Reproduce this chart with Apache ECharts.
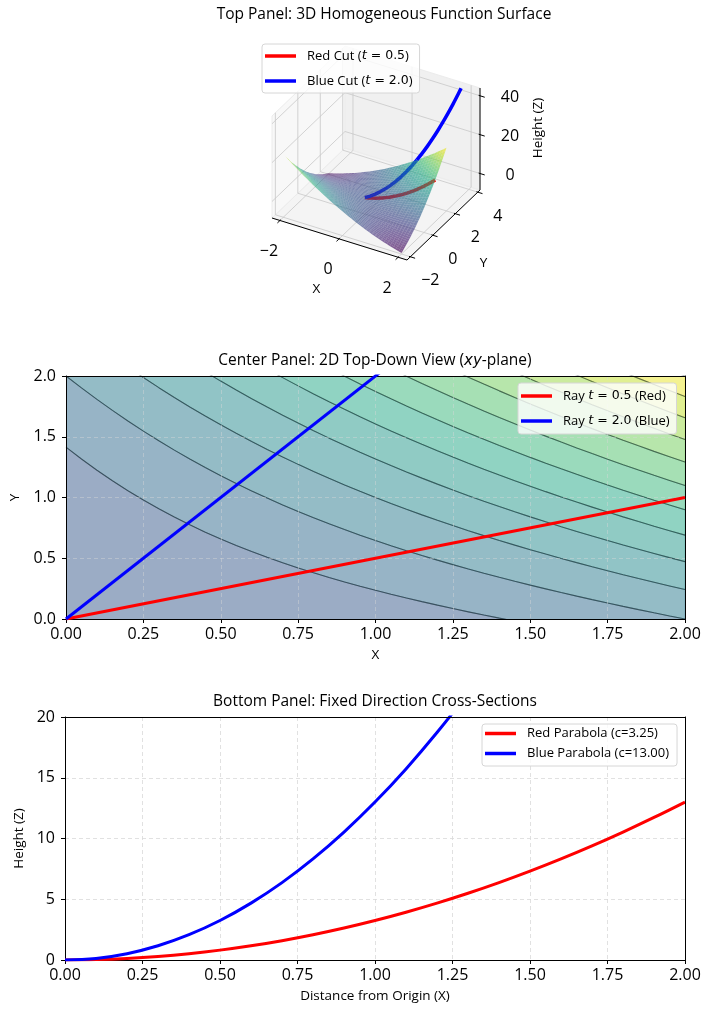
<!DOCTYPE html>
<html>
<head>
<meta charset="utf-8">
<script src="https://cdn.jsdelivr.net/npm/echarts@6/dist/echarts.min.js"></script>
<style>
html, body { margin: 0; padding: 0; background: #fff; }
#chart { width: 712px; height: 1016px; }
</style>
</head>
<body>
<div id="chart"></div>
<script>
// surface z = a*x^2 + b*x*y + c*y^2 (homogeneous of degree 2)
var surfCoef = [1, 4, 1];
var surfGridX = [-2,-1.9,-1.8,-1.7,-1.6,-1.5,-1.4,-1.3,-1.2,-1.1,-1,-0.9,-0.8,-0.7,-0.6,-0.5,-0.4,-0.3,-0.2,-0.1,0,0.1,0.2,0.3,0.4,0.5,0.6,0.7,0.8,0.9,1,1.1,1.2,1.3,1.4,1.5,1.6,1.7,1.8,1.9,2];
var surfGridY = [-2,-1.9,-1.8,-1.7,-1.6,-1.5,-1.4,-1.3,-1.2,-1.1,-1,-0.9,-0.8,-0.7,-0.6,-0.5,-0.4,-0.3,-0.2,-0.1,0,0.1,0.2,0.3,0.4,0.5,0.6,0.7,0.8,0.9,1,1.1,1.2,1.3,1.4,1.5,1.6,1.7,1.8,1.9,2];

// 3D axes
var lim3X = [-2.27, 2.3];
var lim3Y = [-2.3, 4.2];
var lim3Z = [-8.5, 44];
var ticks3X = [-2, 0, 2];
var ticks3Y = [-2, 0, 2, 4];
var ticks3Z = [0, 20, 40];

// cuts along y = t*x
var cutT = [0.5, 2.0];
var cutX = [0,0.1,0.2,0.3,0.4,0.5,0.6,0.7,0.8,0.9,1,1.1,1.2,1.3,1.4,1.5,1.6,1.7,1.8,1.9,2];
var redCutZ = [0,0.0325,0.13,0.2925,0.52,0.8125,1.17,1.5925,2.08,2.6325,3.25,3.9325,4.68,5.4925,6.37,7.3125,8.32,9.3925,10.53,11.7325,13];
var blueCutX = [0,0.1,0.2,0.3,0.4,0.5,0.6,0.7,0.8,0.9,1,1.1,1.2,1.3,1.4,1.5,1.6,1.7,1.8,1.85];
var blueCutZ = [0,0.13,0.52,1.17,2.08,3.25,4.68,6.37,8.32,10.53,13,15.73,18.72,21.97,25.48,29.25,33.28,37.57,42.12,44.49];

// center panel
var contourLevels = [-8,-6,-4,-2,0,2,4,6,8,10,12,14,16,18,20,22,24];
var planX = [0,0.05,0.1,0.15,0.2,0.25,0.3,0.35,0.4,0.45,0.5,0.55,0.6,0.65,0.7,0.75,0.8,0.85,0.9,0.95,1,1.05,1.1,1.15,1.2,1.25,1.3,1.35,1.4,1.45,1.5,1.55,1.6,1.65,1.7,1.75,1.8,1.85,1.9,1.95,2];
var rayX = [0, 2];
var rayRedY = [0, 1];
var rayBlueY = [0, 4];

// bottom panel
var parabolaC = [3.25, 13.00];
var distX = [0,0.1,0.2,0.3,0.4,0.5,0.6,0.7,0.8,0.9,1,1.1,1.2,1.3,1.4,1.5,1.6,1.7,1.8,1.9,2];
var redParabola = [0,0.0325,0.13,0.2925,0.52,0.8125,1.17,1.5925,2.08,2.6325,3.25,3.9325,4.68,5.4925,6.37,7.3125,8.32,9.3925,10.53,11.7325,13];
var blueParabola = [0,0.13,0.52,1.17,2.08,3.25,4.68,6.37,8.32,10.53,13,15.73,18.72,21.97,25.48];

var FONT = '"Open Sans", sans-serif';
var MATH = '"DejaVu Sans", sans-serif';
var RED = '#ff0000', BLUE = '#0000ff';

var viridisStops = ['#440154','#482475','#414487','#355f8d','#2a788e','#21918c','#22a884','#44bf70','#7ad151','#bddf26','#fde725'];
function hexRgb(h) { return [parseInt(h.substr(1,2),16), parseInt(h.substr(3,2),16), parseInt(h.substr(5,2),16)]; }
function viridis(t, a) {
    t = Math.max(0, Math.min(1, t));
    var p = t * 10, i = Math.min(9, Math.floor(p)), f = p - i;
    var c0 = hexRgb(viridisStops[i]), c1 = hexRgb(viridisStops[i + 1]);
    var c = [0,1,2].map(function (k) { return Math.round(c0[k] + (c1[k] - c0[k]) * f); });
    return 'rgba(' + c.join(',') + ',' + a + ')';
}

function surfZ(x, y) { return surfCoef[0]*x*x + surfCoef[1]*x*y + surfCoef[2]*y*y; }
// y on the level curve surfZ(x, y) = L
function levelY(x, L) {
    var a = surfCoef[0], b = surfCoef[1], c = surfCoef[2];
    return (-b*x + Math.sqrt(b*b*x*x - 4*c*(a*x*x - L))) / (2*c);
}

// 3D projection into the top panel (elev 30, azim -60 look)
var P0 = [32, 188], VX = [135, 42], VY = [73, -70], VZ = [0, -102];
function frac3(x, y, z) {
    return [(x - lim3X[0]) / (lim3X[1] - lim3X[0]), (y - lim3Y[0]) / (lim3Y[1] - lim3Y[0]), (z - lim3Z[0]) / (lim3Z[1] - lim3Z[0])];
}
function proj3(x, y, z) {
    var f = frac3(x, y, z);
    return [P0[0] + f[0]*VX[0] + f[1]*VY[0] + f[2]*VZ[0], P0[1] + f[0]*VX[1] + f[1]*VY[1] + f[2]*VZ[1]];
}
function depth3(x, y, z) {
    var f = frac3(x, y, z);
    return 0.433*f[0] - 0.75*f[1] + 0.375*f[2];
}

var x0 = lim3X[0], x1 = lim3X[1], y0 = lim3Y[0], y1 = lim3Y[1], z0 = lim3Z[0], z1 = lim3Z[1];

// surface facets, far to near
var zs = surfGridX.map(function (x) { return surfGridY.map(function (y) { return surfZ(x, y); }); });
var zMin = Infinity, zMax = -Infinity;
zs.forEach(function (r) { r.forEach(function (v) { zMin = Math.min(zMin, v); zMax = Math.max(zMax, v); }); });
var surfQuads = [];
for (var i = 0; i < surfGridX.length - 1; i++) {
    for (var j = 0; j < surfGridY.length - 1; j++) {
        var cs = [[i, j], [i + 1, j], [i + 1, j + 1], [i, j + 1]];
        var zAvg = 0, dAvg = 0, pts = [];
        cs.forEach(function (c) {
            var x = surfGridX[c[0]], y = surfGridY[c[1]], z = zs[c[0]][c[1]];
            zAvg += z / 4; dAvg += depth3(x, y, z) / 4;
            pts.push(proj3(x, y, z));
        });
        surfQuads.push({ pts: pts, color: viridis((zAvg - zMin) / (zMax - zMin), 0.65), depth: dAvg });
    }
}
surfQuads.sort(function (a, b) { return a.depth - b.depth; });

var panes = [
    { pts: [[x0,y0,z0],[x1,y0,z0],[x1,y1,z0],[x0,y1,z0]], fill: '#f4f4f4' },
    { pts: [[x0,y0,z0],[x0,y1,z0],[x0,y1,z1],[x0,y0,z1]], fill: '#f8f8f8' },
    { pts: [[x0,y1,z0],[x1,y1,z0],[x1,y1,z1],[x0,y1,z1]], fill: '#f0f0f0' }
];
var gridSegs = [];
ticks3X.forEach(function (x) { gridSegs.push([x,y0,z0, x,y1,z0], [x,y1,z0, x,y1,z1]); });
ticks3Y.forEach(function (y) { gridSegs.push([x0,y,z0, x1,y,z0], [x0,y,z0, x0,y,z1]); });
ticks3Z.forEach(function (z) { gridSegs.push([x0,y0,z, x0,y1,z], [x0,y1,z, x1,y1,z]); });
var dx3 = x1 - x0, dy3 = y1 - y0;
var axisSegs = [[x0,y0,z0, x1,y0,z0], [x1,y0,z0, x1,y1,z0], [x1,y1,z0, x1,y1,z1]];
ticks3X.forEach(function (x) { axisSegs.push([x, y0 + 0.01*dy3, z0, x, y0 - 0.035*dy3, z0]); });
ticks3Y.forEach(function (y) { axisSegs.push([x1 - 0.01*dx3, y, z0, x1 + 0.035*dx3, y, z0]); });
ticks3Z.forEach(function (z) { axisSegs.push([x1 - 0.01*dx3, y1, z, x1 + 0.035*dx3, y1, z]); });

function tickText(v) { return v < 0 ? '\u2212' + Math.abs(v) : String(v); }
var labels3 = [];
ticks3X.forEach(function (x) { labels3.push({ p: [x, y0, z0], d: [-11, 31], text: tickText(x), size: 16 }); });
ticks3Y.forEach(function (y) { labels3.push({ p: [x1, y, z0], d: [20, 24], text: tickText(y), size: 16 }); });
ticks3Z.forEach(function (z) { labels3.push({ p: [x1, y1, z], d: [30, 2], text: tickText(z), size: 16 }); });
labels3.push({ p: [(x0 + x1) / 2, y0, z0], d: [-23, 50], text: 'X', size: 13.5 });
labels3.push({ p: [x1, (y0 + y1) / 2, z0], d: [40, 38], text: 'Y', size: 13.5 });
labels3.push({ p: [x1, y1, (z0 + z1) / 2], d: [58, -11], text: 'Height (Z)', size: 13.5, rot: Math.PI / 2 });

function segSeries(segs, color, width, z) {
    return {
        type: 'custom', xAxisIndex: 0, yAxisIndex: 0, z: z, silent: true,
        data: segs.map(function (s, k) { return [k, 0]; }),
        renderItem: function (params, api) {
            var s = segs[params.dataIndex];
            var a = api.coord(proj3(s[0], s[1], s[2])), b = api.coord(proj3(s[3], s[4], s[5]));
            return { type: 'line', shape: { x1: a[0], y1: a[1], x2: b[0], y2: b[1] }, style: { stroke: color, lineWidth: width } };
        }
    };
}

var redCutName = 'Red Cut (t = ' + cutT[0].toFixed(1) + ')';
var blueCutName = 'Blue Cut (t = ' + cutT[1].toFixed(1) + ')';
var redCutPts = cutX.map(function (x, k) { return proj3(x, cutT[0] * x, redCutZ[k]); });
var blueCutPts = blueCutX.map(function (x, k) { return proj3(x, cutT[1] * x, blueCutZ[k]); });
var blueOnSurf = blueCutPts.filter(function (p, k) { return cutT[1] * blueCutX[k] <= surfGridY[surfGridY.length - 1]; });
var blueAbove = blueCutPts.filter(function (p, k) { return cutT[1] * blueCutX[k] >= surfGridY[surfGridY.length - 1]; });

// center panel bands and contour lines
var bandLevels = contourLevels.filter(function (L) { return L >= 0; });
var lvMin = contourLevels[0], lvMax = contourLevels[contourLevels.length - 1];
var bands = [];
for (var k = 0; k < bandLevels.length - 1; k++) {
    var lo = bandLevels[k], hi = bandLevels[k + 1];
    var poly = planX.map(function (x) { return [x, levelY(x, lo)]; })
        .concat(planX.slice().reverse().map(function (x) { return [x, levelY(x, hi)]; }));
    bands.push({ pts: poly, color: viridis(((lo + hi) / 2 - lvMin) / (lvMax - lvMin), 0.5) });
}
var contourSeries = contourLevels.filter(function (L) { return L > 0; }).map(function (L) {
    return {
        type: 'line', xAxisIndex: 1, yAxisIndex: 1, z: 3, silent: true, symbol: 'none', clip: true,
        data: planX.map(function (x) { return [x, levelY(x, L)]; }),
        lineStyle: { color: 'rgba(20,35,40,0.6)', width: 1.1 }
    };
});

function mathName(name) {
    var m = name.match(/^(.*?)\bt = ([0-9.]+)(.*)$/);
    if (!m) return name;
    return '{n|' + m[1] + '}{i|t}{m| = ' + m[2] + '}{n|' + m[3] + '}';
}
var mathRich = {
    n: { fontFamily: FONT, fontSize: 13, color: '#000' },
    i: { fontFamily: MATH, fontSize: 13, fontStyle: 'italic', color: '#000' },
    m: { fontFamily: MATH, fontSize: 12.5, color: '#000' }
};
function legendBox(left, top, names, pad, gap, rich) {
    return {
        left: left, top: top, orient: 'vertical', data: names, icon: 'rect', z: 20,
        itemWidth: 31, itemHeight: 3.5, itemGap: gap, padding: pad,
        backgroundColor: 'rgba(255,255,255,0.8)', borderColor: '#d6d6d6', borderWidth: 1, borderRadius: 3,
        selectedMode: false,
        formatter: rich ? mathName : null,
        textStyle: { fontFamily: FONT, fontSize: 13, color: '#000', lineHeight: rich ? 16 : 15, padding: [0, 0, 0, 6], rich: rich ? mathRich : undefined }
    };
}

var rayRedName = 'Ray t = ' + cutT[0].toFixed(1) + ' (Red)';
var rayBlueName = 'Ray t = ' + cutT[1].toFixed(1) + ' (Blue)';
var paraRedName = 'Red Parabola (c=' + parabolaC[0].toFixed(2) + ')';
var paraBlueName = 'Blue Parabola (c=' + parabolaC[1].toFixed(2) + ')';

var tickLabel = { color: '#000', fontSize: 16, fontFamily: FONT };
var nameStyle = { color: '#000', fontSize: 13.5, fontFamily: FONT };
function frameAxis(gridIndex, position, min, max) {
    return {
        type: 'value', gridIndex: gridIndex, position: position, min: min, max: max, z: 6,
        axisLine: { show: true, onZero: false, lineStyle: { color: '#000', width: 1 } },
        axisTick: { show: false }, axisLabel: { show: false }, splitLine: { show: false }
    };
}
function mainAxis(gridIndex, position, min, max, interval, digits, name, nameGap, splitStyle, z) {
    var ax = {
        type: 'value', gridIndex: gridIndex, position: position, min: min, max: max, interval: interval, z: z,
        name: name, nameLocation: 'middle', nameGap: nameGap, nameTextStyle: nameStyle,
        axisLine: { show: true, onZero: false, lineStyle: { color: '#000', width: 1 } },
        axisTick: { show: true, length: 4, lineStyle: { color: '#000', width: 1 } },
        axisLabel: Object.assign({ margin: position === 'left' ? 10 : 7, formatter: function (v) { return v.toFixed(digits); } }, tickLabel),
        splitLine: { show: true, lineStyle: splitStyle }
    };
    if (position === 'left') ax.nameRotate = 90;
    return ax;
}
var centerSplit = { color: 'rgba(215,215,215,0.55)', width: 0.8, type: [4, 3] };
var bottomSplit = { color: '#d9d9d9', width: 0.8, type: [4, 3] };
var titleText = { fontSize: 15.5, fontWeight: 'normal', color: '#000', fontFamily: FONT };

var option = {
    animation: false,
    backgroundColor: '#fff',
    textStyle: { fontFamily: FONT },
    title: [
        { text: 'Top Panel: 3D Homogeneous Function Surface', left: 384, top: 7, textAlign: 'center', padding: 0, textStyle: titleText },
        { text: '{n|Center Panel: 2D Top-Down View (}{i|xy}{n|-plane)}', left: 375, top: 353, textAlign: 'center', padding: 0,
          textStyle: { fontWeight: 'normal', rich: {
              n: { fontSize: 15.5, fontWeight: 'normal', color: '#000', fontFamily: FONT },
              i: { fontSize: 15, fontWeight: 'normal', color: '#000', fontFamily: MATH, fontStyle: 'italic' } } } },
        { text: 'Bottom Panel: Fixed Direction Cross-Sections', left: 375, top: 694, textAlign: 'center', padding: 0, textStyle: titleText }
    ],
    legend: [
        legendBox(262, 44, [redCutName, blueCutName], [4, 7, 4, 3], 9, true),
        legendBox(518, 383, [rayRedName, rayBlueName], [5, 7, 5, 3], 9, true),
        legendBox(482, 724, [paraRedName, paraBlueName], [2, 8, 5, 3], 5, false)
    ],
    grid: [
        { left: 240, top: 30, width: 300, height: 280, show: false },
        { left: 65, top: 376, width: 620, height: 243, show: false },
        { left: 65, top: 717, width: 620, height: 243, show: false }
    ],
    xAxis: [
        { type: 'value', gridIndex: 0, min: 0, max: 300, show: false },
        mainAxis(1, 'bottom', 0, 2, 0.25, 2, 'X', 29, centerSplit, 5),
        frameAxis(1, 'top', 0, 2),
        mainAxis(2, 'bottom', 0, 2, 0.25, 2, 'Distance from Origin (X)', 29, bottomSplit, 1),
        frameAxis(2, 'top', 0, 2)
    ],
    yAxis: [
        { type: 'value', gridIndex: 0, min: 0, max: 280, inverse: true, show: false },
        mainAxis(1, 'left', 0, 2, 0.5, 1, 'Y', 44, centerSplit, 5),
        frameAxis(1, 'right', 0, 2),
        mainAxis(2, 'left', 0, 20, 5, 0, 'Height (Z)', 31, bottomSplit, 1),
        frameAxis(2, 'right', 0, 20)
    ],
    series: [
        // top panel frame
        {
            type: 'custom', xAxisIndex: 0, yAxisIndex: 0, z: 1, silent: true,
            data: panes.map(function (p, k) { return [k, 0]; }),
            renderItem: function (params, api) {
                var pn = panes[params.dataIndex];
                return { type: 'polygon', shape: { points: pn.pts.map(function (p) { return api.coord(proj3(p[0], p[1], p[2])); }) },
                         style: { fill: pn.fill, stroke: '#ececec', lineWidth: 1 } };
            }
        },
        segSeries(gridSegs, '#c8c8c8', 0.8, 1.5),
        segSeries(axisSegs, '#000', 1, 1.8),
        {
            type: 'custom', xAxisIndex: 0, yAxisIndex: 0, z: 6, silent: true,
            data: labels3.map(function (l, k) { return [k, 0]; }),
            renderItem: function (params, api) {
                var l = labels3[params.dataIndex];
                var c = api.coord(proj3(l.p[0], l.p[1], l.p[2]));
                return { type: 'text', x: c[0] + l.d[0], y: c[1] + l.d[1], rotation: l.rot || 0,
                         style: { text: l.text, fill: '#000', fontSize: l.size, fontFamily: FONT, align: 'center', verticalAlign: 'middle' } };
            }
        },
        // cuts lying on the surface (drawn beneath it)
        { name: redCutName, type: 'line', xAxisIndex: 0, yAxisIndex: 0, z: 3, symbol: 'none', silent: true, clip: false,
          data: redCutPts, lineStyle: { color: RED, width: 3.5 }, itemStyle: { color: RED } },
        { name: blueCutName, type: 'line', xAxisIndex: 0, yAxisIndex: 0, z: 3, symbol: 'none', silent: true, clip: false,
          data: blueOnSurf, lineStyle: { color: BLUE, width: 3.5 }, itemStyle: { color: BLUE } },
        {
            type: 'custom', xAxisIndex: 0, yAxisIndex: 0, z: 4, silent: true,
            data: surfQuads.map(function (q, k) { return [k, 0]; }),
            renderItem: function (params, api) {
                var q = surfQuads[params.dataIndex];
                return { type: 'polygon', shape: { points: q.pts.map(function (p) { return api.coord(p); }) },
                         style: { fill: q.color, stroke: null } };
            }
        },
        { name: blueCutName, type: 'line', xAxisIndex: 0, yAxisIndex: 0, z: 5, symbol: 'none', silent: true, clip: false,
          smooth: 0.3, data: blueAbove, lineStyle: { color: BLUE, width: 3.5 }, itemStyle: { color: BLUE } },

        // center panel
        {
            type: 'custom', xAxisIndex: 1, yAxisIndex: 1, z: 2, silent: true, clip: true,
            data: bands.map(function (b, k) { return [k, 0]; }),
            renderItem: function (params, api) {
                var b = bands[params.dataIndex];
                return { type: 'polygon', shape: { points: b.pts.map(function (p) { return api.coord(p); }) },
                         style: { fill: b.color, stroke: b.color, lineWidth: 0.5 } };
            }
        }
    ].concat(contourSeries).concat([
        { name: rayRedName, type: 'line', xAxisIndex: 1, yAxisIndex: 1, z: 10, symbol: 'none', clip: true,
          data: rayX.map(function (x, k) { return [x, rayRedY[k]]; }), lineStyle: { color: RED, width: 3 }, itemStyle: { color: RED } },
        { name: rayBlueName, type: 'line', xAxisIndex: 1, yAxisIndex: 1, z: 10, symbol: 'none', clip: true,
          data: rayX.map(function (x, k) { return [x, rayBlueY[k]]; }), lineStyle: { color: BLUE, width: 3 }, itemStyle: { color: BLUE } },

        // bottom panel
        { name: paraRedName, type: 'line', xAxisIndex: 3, yAxisIndex: 3, z: 4, symbol: 'none', clip: true, smooth: 0.4,
          data: distX.map(function (x, k) { return [x, redParabola[k]]; }), lineStyle: { color: RED, width: 3 }, itemStyle: { color: RED } },
        { name: paraBlueName, type: 'line', xAxisIndex: 3, yAxisIndex: 3, z: 4, symbol: 'none', clip: true, smooth: 0.4,
          data: blueParabola.map(function (v, k) { return [distX[k], v]; }), lineStyle: { color: BLUE, width: 3 }, itemStyle: { color: BLUE } }
    ])
};

var chart = echarts.init(document.getElementById('chart'));
chart.setOption(option);
</script>
</body>
</html>
